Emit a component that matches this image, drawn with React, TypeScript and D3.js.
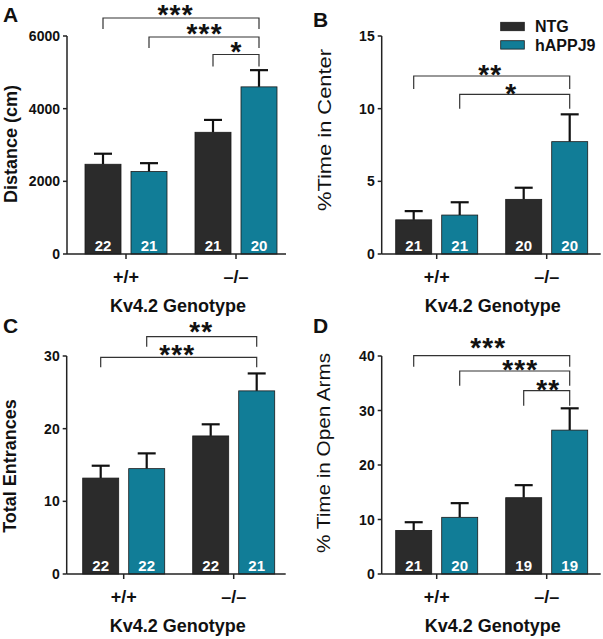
import React from "react";
import * as d3 from "d3";

// ---------- data ----------
const groups = ["+/+", "\u2013/\u2013"];
const series = ["NTG", "hAPPJ9"];

// Panel A: Distance (cm)
const distNTG = [2470, 3350];
const distNTGErr = [290, 340];
const distAPP = [2270, 4600];
const distAPPErr = [230, 460];
const distNNTG = [22, 21];
const distNAPP = [21, 20];
const distTicks = [0, 2000, 4000, 6000];

// Panel B: % Time in Center
const centerNTG = [2.35, 3.76];
const centerNTGErr = [0.6, 0.8];
const centerAPP = [2.68, 7.73];
const centerAPPErr = [0.88, 1.88];
const centerNNTG = [21, 20];
const centerNAPP = [21, 20];
const centerTicks = [0, 5, 10, 15];

// Panel C: Total Entrances
const entrNTG = [13.2, 19.0];
const entrNTGErr = [1.7, 1.6];
const entrAPP = [14.5, 25.2];
const entrAPPErr = [2.1, 2.4];
const entrNNTG = [22, 22];
const entrNAPP = [22, 21];
const entrTicks = [0, 10, 20, 30];

// Panel D: % Time in Open Arms
const armsNTG = [8.0, 14.0];
const armsNTGErr = [1.5, 2.3];
const armsAPP = [10.4, 26.4];
const armsAPPErr = [2.6, 4.0];
const armsNNTG = [21, 19];
const armsNAPP = [20, 19];
const armsTicks = [0, 10, 20, 30, 40];

// significance: bar index 0=NTG +/+, 1=hAPPJ9 +/+, 2=NTG -/-, 3=hAPPJ9 -/-
const distSig = [
  { from: 0, to: 3, label: "***" },
  { from: 1, to: 3, label: "***" },
  { from: 2, to: 3, label: "*" },
];
const centerSig = [
  { from: 0, to: 3, label: "**" },
  { from: 1, to: 3, label: "*" },
];
const entrSig = [
  { from: 1, to: 3, label: "**" },
  { from: 0, to: 3, label: "***" },
];
const armsSig = [
  { from: 0, to: 3, label: "***" },
  { from: 1, to: 3, label: "***" },
  { from: 2, to: 3, label: "**" },
];

const xTitle = "Kv4.2 Genotype";

// ---------- styling / layout ----------
const COLORS = ["#2b2b2b", "#117d97"];
const FONT = "'Liberation Sans', Arial, Helvetica, sans-serif";
const AXIS = "#222";

type Panel = {
  letter: string;
  lx: number;
  ly: number;
  axisX: number;
  y0: number;
  top: number;
  xOff: number;
  ticks: number[];
  ntg: number[];
  ntgErr: number[];
  app: number[];
  appErr: number[];
  nNtg: number[];
  nApp: number[];
  sig: { from: number; to: number; label: string }[];
  sigY: number[];
  sigLeg: number[];
  sigDy: number[];
  sigDx: number[];
  yTitle: string;
  yBold: boolean;
  yX: number;
  yY: number;
  yLen?: number;
  legend?: boolean;
};

const panels: Panel[] = [
  {
    letter: "A", lx: 3, ly: 22, axisX: 67, y0: 254, top: 36, xOff: 4,
    ticks: distTicks, ntg: distNTG, ntgErr: distNTGErr, app: distAPP, appErr: distAPPErr,
    nNtg: distNNTG, nApp: distNAPP, sig: distSig,
    sigY: [18, 37, 54.5], sigLeg: [11, 11, 12], sigDy: [-10, -10, -9], sigDx: [-6, 0, 0],
    yTitle: "Distance (cm)", yBold: true, yX: 17, yY: 144,
  },
  {
    letter: "B", lx: 313, ly: 27, axisX: 381.7, y0: 254, top: 36, xOff: 0,
    ticks: centerTicks, ntg: centerNTG, ntgErr: centerNTGErr, app: centerAPP, appErr: centerAPPErr,
    nNtg: centerNNTG, nApp: centerNAPP, sig: centerSig,
    sigY: [76, 94.3], sigLeg: [13, 14.5], sigDy: [-8, -7], sigDx: [-2, -4],
    yTitle: "%Time in Center", yBold: false, yX: 331, yY: 130, yLen: 162, legend: true,
  },
  {
    letter: "C", lx: 3, ly: 333, axisX: 66.7, y0: 574, top: 356, xOff: 2,
    ticks: entrTicks, ntg: entrNTG, ntgErr: entrNTGErr, app: entrAPP, appErr: entrAPPErr,
    nNtg: entrNNTG, nApp: entrNAPP, sig: entrSig,
    sigY: [336.7, 357.3], sigLeg: [10, 10], sigDy: [-11.5, -8.5], sigDx: [-1, -2],
    yTitle: "Total Entrances", yBold: true, yX: 16, yY: 466,
  },
  {
    letter: "D", lx: 313, ly: 333, axisX: 381.7, y0: 574, top: 356, xOff: 0,
    ticks: armsTicks, ntg: armsNTG, ntgErr: armsNTGErr, app: armsAPP, appErr: armsAPPErr,
    nNtg: armsNNTG, nApp: armsNAPP, sig: armsSig,
    sigY: [355.7, 371, 390.7], sigLeg: [11, 14.7, 15], sigDy: [-14, -8, -7], sigDx: [-4, 5, 1],
    yTitle: "% Time in Open Arms", yBold: false, yX: 330, yY: 453, yLen: 200,
  },
];

const STAR_SIZE = 28;

function PanelView({ p }: { p: Panel }) {
  const maxTick = p.ticks[p.ticks.length - 1];
  const y = d3.scaleLinear().domain([0, maxTick]).range([p.y0, p.top]);
  const gx = d3
    .scaleBand<string>()
    .domain(groups)
    .range([p.axisX + p.xOff, p.axisX + p.xOff + 220])
    .padding(0);
  const inner = d3
    .scaleBand<string>()
    .domain(series)
    .range([-41, 41])
    .paddingInner(0.2174)
    .paddingOuter(0);
  const axisEnd = p.axisX + 219;

  const bars = groups.flatMap((g, gi) =>
    series.map((s, si) => {
      const v = si === 0 ? p.ntg[gi] : p.app[gi];
      const e = si === 0 ? p.ntgErr[gi] : p.appErr[gi];
      const n = si === 0 ? p.nNtg[gi] : p.nApp[gi];
      const x = (gx(g) as number) + gx.bandwidth() / 2 + (inner(s) as number);
      return { g, s, si, v, e, n, x, w: inner.bandwidth() };
    })
  );
  const barCenter = (i: number) => bars[i].x + bars[i].w / 2;

  return (
    <g>
      <text x={p.lx} y={p.ly} fontSize={21} fontWeight="bold" fontFamily={FONT} fill="#111">
        {p.letter}
      </text>

      {/* bars */}
      {bars.map((b, i) => (
        <g key={i}>
          <line
            x1={b.x + b.w / 2}
            x2={b.x + b.w / 2}
            y1={y(b.v)}
            y2={y(b.v + b.e)}
            stroke="#111"
            strokeWidth={2.2}
          />
          <line
            x1={b.x + b.w / 2 - 9}
            x2={b.x + b.w / 2 + 9}
            y1={y(b.v + b.e)}
            y2={y(b.v + b.e)}
            stroke="#111"
            strokeWidth={2.2}
          />
          <rect
            x={b.x}
            y={y(b.v)}
            width={b.w}
            height={p.y0 - y(b.v)}
            fill={COLORS[b.si]}
            stroke="#1a1a1a"
            strokeWidth={0.8}
          />
          <text
            x={b.x + b.w / 2}
            y={p.y0 - 3.5}
            textAnchor="middle"
            fontSize={15}
            fontWeight="bold"
            fontFamily={FONT}
            fill="#fff"
          >
            {b.n}
          </text>
        </g>
      ))}

      {/* y axis */}
      <line x1={p.axisX} x2={p.axisX} y1={p.y0} y2={p.top} stroke={AXIS} strokeWidth={1.5} />
      {p.ticks.map((t) => (
        <g key={t}>
          <line x1={p.axisX - 4} x2={p.axisX} y1={y(t)} y2={y(t)} stroke={AXIS} strokeWidth={1.5} />
          <text
            x={p.axisX - 7}
            y={y(t) + 5}
            textAnchor="end"
            fontSize={14}
            fontWeight="bold"
            fontFamily={FONT}
            fill="#111"
          >
            {t}
          </text>
        </g>
      ))}

      {/* x axis */}
      <line x1={p.axisX} x2={axisEnd} y1={p.y0} y2={p.y0} stroke={AXIS} strokeWidth={1.5} />
      {groups.map((g) => {
        const cx = (gx(g) as number) + gx.bandwidth() / 2;
        return (
          <g key={g}>
            <line x1={cx} x2={cx} y1={p.y0} y2={p.y0 + 5} stroke={AXIS} strokeWidth={1.5} />
            <text
              x={cx}
              y={p.y0 + 28.5}
              textAnchor="middle"
              fontSize={18}
              fontWeight="bold"
              fontFamily={FONT}
              fill="#111"
            >
              {g}
            </text>
          </g>
        );
      })}

      <text
        x={p.axisX + 111}
        y={p.y0 + 58}
        textAnchor="middle"
        fontSize={18}
        fontWeight="bold"
        fontFamily={FONT}
        fill="#111"
      >
        {xTitle}
      </text>

      <text
        transform={`translate(${p.yX},${p.yY}) rotate(-90)`}
        textAnchor="middle"
        fontSize={p.yBold ? 18 : 19}
        fontWeight={p.yBold ? "bold" : "normal"}
        fontFamily={FONT}
        fill="#111"
        {...(p.yLen ? { textLength: p.yLen, lengthAdjust: "spacingAndGlyphs" } : {})}
      >
        {p.yTitle}
      </text>

      {/* significance brackets */}
      {p.sig.map((s, i) => {
        const x1 = barCenter(s.from);
        const x2 = barCenter(s.to);
        const by = p.sigY[i];
        const leg = p.sigLeg[i];
        const cy = by + p.sigDy[i];
        return (
          <g key={i}>
            <path
              d={`M${x1},${by + leg}V${by}H${x2}V${by + leg}`}
              fill="none"
              stroke="#333"
              strokeWidth={1.2}
            />
            <text
              x={(x1 + x2) / 2 + p.sigDx[i] + 0.6}
              y={cy + 15.5}
              textAnchor="middle"
              fontSize={STAR_SIZE}
              fontWeight="bold"
              fontFamily={FONT}
              letterSpacing={1.2}
              fill="#111"
            >
              {s.label}
            </text>
          </g>
        );
      })}

      {p.legend &&
        series.map((s, i) => (
          <g key={s}>
            <rect
              x={500.7}
              y={22.3 + i * 18.4}
              width={23.6}
              height={8.4}
              fill={COLORS[i]}
              stroke="#1a1a1a"
              strokeWidth={0.8}
            />
            <text
              x={535}
              y={32.4 + i * 18.4}
              fontSize={16}
              fontWeight="bold"
              fontFamily={FONT}
              fill="#111"
            >
              {s}
            </text>
          </g>
        ))}
    </g>
  );
}

export default function App() {
  return (
    <svg
      width={603}
      height={639}
      viewBox="0 0 603 639"
      style={{ position: "absolute", left: 0, top: 0, background: "#fff", display: "block" }}
    >
      <rect x={0} y={0} width={603} height={639} fill="#fff" />
      {panels.map((p) => (
        <PanelView key={p.letter} p={p} />
      ))}
    </svg>
  );
}
